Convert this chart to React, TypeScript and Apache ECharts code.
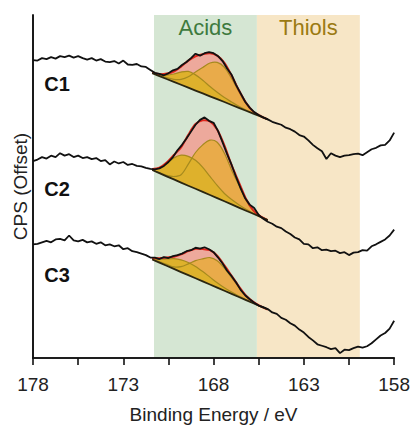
import React, { useEffect, useRef } from 'react';
import * as echarts from 'echarts';

// Binding energies of the measured spectra (eV)
const SPEC_E = [178, 177.75, 177.5, 177.25, 177, 176.75, 176.5, 176.25, 176, 175.75,
  175.5, 175.25, 175, 174.75, 174.5, 174.25, 174, 173.75, 173.5, 173.25,
  173, 172.75, 172.5, 172.25, 172, 171.75, 171.5, 171.25, 171, 170.75,
  170.5, 170.25, 170, 169.75, 169.5, 169.25, 169, 168.75, 168.5, 168.25,
  168, 167.75, 167.5, 167.25, 167, 166.75, 166.5, 166.25, 166, 165.75,
  165.5, 165.25, 165, 164.75, 164.5, 164.25, 164, 163.75, 163.5, 163.25,
  163, 162.75, 162.5, 162.25, 162, 161.75, 161.5, 161.25, 161, 160.75,
  160.5, 160.25, 160, 159.75, 159.5, 159.25, 159, 158.75, 158.5, 158.25,
  158];

// Offset CPS of each spectrum
const C1_CPS = [304, 303.5, 306, 305, 307, 305.5, 308, 307, 308.5, 306.5,
  308, 306, 304.5, 306, 303.5, 305, 302.5, 302, 303, 300.5,
  303.5, 299.5, 299, 300, 297.5, 297, 294, 291, 290, 288.5,
  290.5, 293.5, 295, 299, 302, 306, 310.5, 308.5, 311, 312,
  311, 308, 303, 295.5, 289, 278.5, 270, 261.5, 255.5, 251,
  248, 245.5, 243.5, 241, 239.5, 238, 235, 233.5, 231, 227.5,
  226, 222, 217.5, 214, 211, 203, 209, 206.5, 205, 206.5,
  207, 208, 208.5, 207, 210, 213, 214.5, 217, 217.5, 222,
  230];
const C2_CPS = [201, 202.5, 205, 203.5, 206.5, 205, 209, 206.5, 208, 205,
  206.5, 204, 205, 203, 204, 201, 202, 197.5, 200.5, 198.5,
  200, 197, 198, 196, 195.5, 194, 193, 192.5, 193.5, 196,
  200, 205, 212, 217.5, 224, 231, 238, 243, 245.5, 242,
  240, 231.5, 220, 208, 197, 184.5, 173, 163, 156.5, 153,
  146, 142, 139, 137, 134, 132.5, 129, 126.5, 123, 121,
  116.5, 116, 112, 113, 110, 110.5, 109, 109.5, 107, 108,
  105, 107.5, 108, 110, 109.5, 114, 116, 118.5, 121, 125,
  131];
const C3_CPS = [116, 116.5, 118, 119.5, 118, 121, 121.5, 120, 125, 120,
  119, 120.5, 118, 119, 116.5, 118, 115, 116, 114, 115,
  111, 112, 109, 108, 106.5, 105, 102.5, 102.5, 101, 103,
  102, 104, 105, 106.5, 109, 110, 112.5, 111.5, 113, 111,
  108, 102.5, 96.5, 89, 83.5, 77, 69.5, 64, 60, 56.5,
  53.5, 52, 50, 46.5, 45, 41, 39, 35.5, 33, 29,
  26, 21.5, 18, 14, 12.5, 11, 9, 10, 5, 8.5,
  8, 10, 11.5, 10.5, 12, 15, 19, 23, 25.5, 30,
  38];

// Fit region energies (eV)
const FIT_E = [171.4, 171.0, 170.6, 170.2, 169.8, 169.4, 169.0, 168.6, 168.2,
  167.8, 167.4, 167.0, 166.6, 166.2, 165.8, 165.4, 165.0];

// Backgrounds and fitted components (height above background)
const C1_BASE = [290.6, 287.7, 284.7, 281.8, 278.8, 275.9, 272.9, 270, 267, 264.1, 261.2, 258.2, 255.3, 252.3, 249.4, 246.4, 243.5];
const C1_A = [0.5, 1.5, 4, 8, 13, 16.5, 16, 13.5, 10, 7, 4.5, 3, 1.5, 0.8, 0.3, 0.1, 0];
const C1_B = [0.3, 0.5, 1.5, 2.5, 5.5, 11, 19, 26.5, 34, 37.5, 35.5, 27, 16.5, 7.2, 1.7, 0.4, 0];

const C2_BASE = [191.8, 188.6, 185.4, 182.2, 179, 175.8, 172.7, 169.5, 166.3, 163.1, 159.9, 156.7, 153.5, 150.3, 147.2, 144, 140.7];
const C2_A = [1, 5, 13, 22, 28, 30, 29, 25, 19, 13, 8, 5, 3, 1.5, 0.5, 0, 0];
const C2_B = [0, 0.5, 1, 3, 8, 22, 37, 48, 56, 57, 49, 35, 23, 10.5, 3, 0.5, 0];

const C3_BASE = [100.5, 97.3, 94.1, 90.9, 87.7, 84.5, 81.4, 78.2, 75, 71.8, 68.6, 65.4, 62.2, 59, 55.9, 52.6, 49.5];
const C3_A = [1, 3.5, 7, 10.5, 12.5, 13, 12, 10, 7.5, 5, 3, 2, 1, 0.5, 0.2, 0, 0];
const C3_B = [0.5, 1, 1.5, 2, 5.5, 11.5, 18, 23, 27.5, 27.5, 23, 16.5, 10, 4, 1.3, 0.3, 0];

const SAMPLE_NAMES = ['C1', 'C2', 'C3'];
const X_TICKS = [178, 173, 168, 163, 158];
const ACIDS_RANGE = [171.3, 165.6];
const THIOLS_RANGE = [165.6, 159.9];

const E_MAX = 178;
const FONT = '"Liberation Sans", Arial, sans-serif';

const FITS = [
  { base: C1_BASE, a: C1_A, b: C1_B },
  { base: C2_BASE, a: C2_A, b: C2_B },
  { base: C3_BASE, a: C3_A, b: C3_B },
];
const SPECTRA = [C1_CPS, C2_CPS, C3_CPS];

export default function App() {
  const ref = useRef<HTMLDivElement>(null);

  useEffect(() => {
    if (!ref.current) return;
    const chart = echarts.init(ref.current, undefined, { renderer: 'svg' });

    const renderFit = (params: any, api: any) => {
      const f = FITS[params.dataIndex];
      const pts = (hs: number[]) => FIT_E.map((e, i) => api.coord([E_MAX - e, f.base[i] + hs[i]]));
      const zero = FIT_E.map(() => 0);
      const env = FIT_E.map((_, i) => f.a[i] + f.b[i]);
      const baseLine = pts(zero);
      const back = baseLine.slice().reverse();
      const envLine = pts(env);
      const aLine = pts(f.a);
      const bLine = pts(f.b);
      const sm = 0.3;
      return {
        type: 'group',
        children: [
          { type: 'polygon', shape: { points: envLine.concat(back), smooth: sm }, style: { fill: '#EDA99C' } },
          { type: 'polygon', shape: { points: bLine.concat(back), smooth: sm }, style: { fill: '#E9AB4A' } },
          { type: 'polygon', shape: { points: aLine.concat(back), smooth: sm }, style: { fill: '#DEB12C' } },
          { type: 'polyline', shape: { points: bLine, smooth: sm }, style: { stroke: '#A68A1E', lineWidth: 1.2, fill: 'none' } },
          { type: 'polyline', shape: { points: aLine, smooth: sm }, style: { stroke: '#A68A1E', lineWidth: 1.2, fill: 'none' } },
          { type: 'polyline', shape: { points: envLine, smooth: sm }, style: { stroke: '#E0261C', lineWidth: 2, fill: 'none' } },
          { type: 'polyline', shape: { points: baseLine }, style: { stroke: '#2B2610', lineWidth: 1.8, fill: 'none' } },
        ],
      };
    };

    const lineSeries: any[] = SPECTRA.map((vals, si) => ({
      type: 'line',
      name: SAMPLE_NAMES[si],
      data: SPEC_E.map((e, i) => [E_MAX - e, vals[i]]),
      showSymbol: false,
      symbol: 'none',
      lineStyle: { color: '#111', width: 1.8 },
      z: 4,
      silent: true,
    }));

    lineSeries[0].markArea = {
      silent: true,
      z: 1,
      label: { show: true, position: 'insideTop', distance: 1, fontSize: 22, fontFamily: FONT },
      data: [
        [
          { name: 'Acids', xAxis: E_MAX - ACIDS_RANGE[0], itemStyle: { color: '#D5E6D3' }, label: { color: '#3E7A3E' } },
          { xAxis: E_MAX - ACIDS_RANGE[1] },
        ],
        [
          { name: 'Thiols', xAxis: E_MAX - THIOLS_RANGE[0], itemStyle: { color: '#F7E6C6' }, label: { color: '#9B7A12' } },
          { xAxis: E_MAX - THIOLS_RANGE[1] },
        ],
      ],
    };

    const labelY = [84, 189, 275];

    chart.setOption({
      animation: false,
      grid: { left: 33, right: 17, top: 15, bottom: 64, containLabel: false },
      xAxis: [
        {
          type: 'value',
          min: 0,
          max: 20,
          interval: 2.5,
          z: 10,
          name: 'Binding Energy / eV',
          nameLocation: 'middle',
          nameGap: 47,
          nameTextStyle: { fontSize: 19, color: '#222', fontFamily: FONT },
          axisLine: { show: true, lineStyle: { color: '#111', width: 1.6 } },
          axisTick: { show: true, inside: false, length: 7, lineStyle: { color: '#111', width: 1.6 } },
          axisLabel: {
            fontSize: 19,
            color: '#222',
            fontFamily: FONT,
            margin: 17,
            formatter: (v: number) => {
              const e = Math.round((E_MAX - v) * 100) / 100;
              return X_TICKS.includes(e) ? String(e) : '';
            },
          },
          splitLine: { show: false },
        },
        {
          type: 'value',
          position: 'top',
          min: 0,
          max: 20,
          z: 10,
          axisLine: { show: true, lineStyle: { color: '#111', width: 1.6 } },
          axisTick: { show: false },
          axisLabel: { show: false },
          splitLine: { show: false },
        },
      ],
      yAxis: [
        {
          type: 'value',
          min: 0,
          max: 350,
          z: 10,
          name: 'CPS (Offset)',
          nameLocation: 'middle',
          nameGap: 3,
          nameTextStyle: { fontSize: 19, color: '#222', fontFamily: FONT },
          axisLine: { show: true, lineStyle: { color: '#111', width: 1.6 } },
          axisTick: { show: false },
          axisLabel: { show: false },
          splitLine: { show: false },
        },
        {
          type: 'value',
          position: 'right',
          min: 0,
          max: 350,
          z: 10,
          axisLine: { show: true, lineStyle: { color: '#111', width: 1.6 } },
          axisTick: { show: false },
          axisLabel: { show: false },
          splitLine: { show: false },
        },
      ],
      graphic: SAMPLE_NAMES.map((n, i) => ({
        type: 'text',
        x: 57,
        y: labelY[i],
        z: 20,
        style: {
          text: n,
          font: `bold 20px ${FONT}`,
          fill: '#111',
          textAlign: 'center',
          textVerticalAlign: 'middle',
        },
      })),
      series: [
        {
          type: 'custom',
          renderItem: renderFit,
          data: FITS.map((f) => [E_MAX - FIT_E[0], f.base[0]]),
          z: 3,
          silent: true,
        },
        ...lineSeries,
      ],
    });

    return () => chart.dispose();
  }, []);

  return (
    <div
      ref={ref}
      style={{ position: 'fixed', left: 0, top: 0, width: 413, height: 429, background: '#fff' }}
    />
  );
}
